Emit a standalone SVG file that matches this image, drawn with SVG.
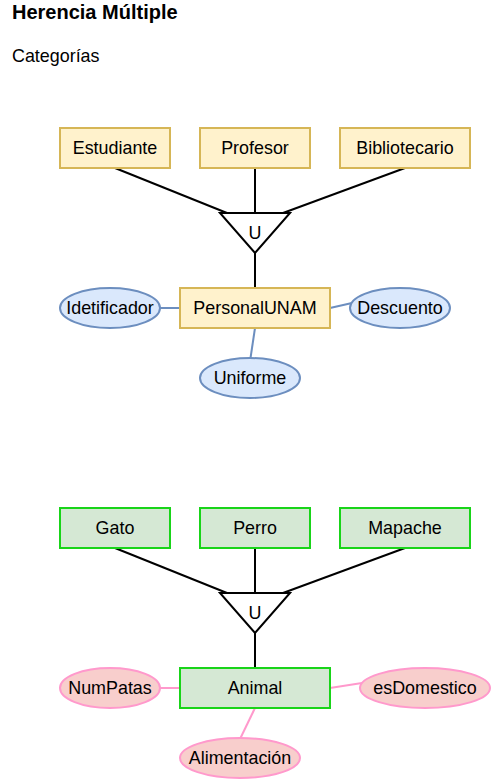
<svg xmlns="http://www.w3.org/2000/svg" width="492" height="780" viewBox="0 0 492 780">
<style>
text{font-family:"Liberation Sans",Arial,sans-serif;font-size:17.9px;fill:#000}
.c{text-anchor:middle}
.ent{fill:#fff2cc;stroke:#d6b656;stroke-width:2}
.ent2{fill:#d5e8d4;stroke:#19d419;stroke-width:2}
.att{fill:#dae8fc;stroke:#6c8ebf;stroke-width:2}
.att2{fill:#f8cecc;stroke:#ff99cc;stroke-width:2}
.tri{fill:#fff;stroke:#000;stroke-width:2}
.l{stroke:#000;stroke-width:2;fill:none}
.lb{stroke:#6c8ebf;stroke-width:2;fill:none}
.lp{stroke:#ff99cc;stroke-width:2;fill:none}
</style>
<rect width="492" height="780" fill="#fff"/>
<text x="12" y="19" style="font-size:20px;font-weight:bold">Herencia Múltiple</text>
<text x="12" y="62">Categorías</text>

<g id="connectors">
<line class="l" x1="115" y1="168" x2="227" y2="213"/>
<line class="l" x1="255" y1="168" x2="255" y2="213"/>
<line class="l" x1="405" y1="168" x2="283" y2="213"/>
<line class="l" x1="255" y1="253" x2="255" y2="288"/>
<line class="lb" x1="160" y1="308" x2="180" y2="308"/>
<line class="lb" x1="330" y1="308" x2="352" y2="303"/>
<line class="lb" x1="255" y1="328" x2="250.5" y2="358"/>
<line class="l" x1="115" y1="548" x2="227" y2="593"/>
<line class="l" x1="255" y1="548" x2="255" y2="593"/>
<line class="l" x1="405" y1="548" x2="283" y2="593"/>
<line class="l" x1="255" y1="633" x2="255" y2="668"/>
<line class="lp" x1="160" y1="688" x2="180" y2="688"/>
<line class="lp" x1="330" y1="688" x2="362" y2="683"/>
<line class="lp" x1="255" y1="708" x2="240.5" y2="738"/>
</g>

<g id="estudiante"><rect class="ent" x="60" y="128" width="110" height="40"/><text class="c" x="115" y="154.3">Estudiante</text></g>
<g id="profesor"><rect class="ent" x="200" y="128" width="110" height="40"/><text class="c" x="255" y="154.3">Profesor</text></g>
<g id="bibliotecario"><rect class="ent" x="340" y="128" width="130" height="40"/><text class="c" x="405" y="154.3">Bibliotecario</text></g>
<g id="union1"><polygon class="tri" points="220,213 290,213 255,253"/><text class="c" x="255" y="239">U</text></g>
<g id="personalunam"><rect class="ent" x="180" y="288" width="150" height="40"/><text class="c" x="255" y="314.3">PersonalUNAM</text></g>
<g id="idetificador"><ellipse class="att" cx="110" cy="308" rx="50" ry="20"/><text class="c" x="110" y="314.3">Idetificador</text></g>
<g id="descuento"><ellipse class="att" cx="400" cy="308" rx="50" ry="20"/><text class="c" x="400" y="314.3">Descuento</text></g>
<g id="uniforme"><ellipse class="att" cx="250" cy="378" rx="50" ry="20"/><text class="c" x="250" y="384.3">Uniforme</text></g>

<g id="gato"><rect class="ent2" x="60" y="508" width="110" height="40"/><text class="c" x="115" y="534.3">Gato</text></g>
<g id="perro"><rect class="ent2" x="200" y="508" width="110" height="40"/><text class="c" x="255" y="534.3">Perro</text></g>
<g id="mapache"><rect class="ent2" x="340" y="508" width="130" height="40"/><text class="c" x="405" y="534.3">Mapache</text></g>
<g id="union2"><polygon class="tri" points="220,593 290,593 255,633"/><text class="c" x="255" y="619">U</text></g>
<g id="animal"><rect class="ent2" x="180" y="668" width="150" height="40"/><text class="c" x="255" y="694.3">Animal</text></g>
<g id="numpatas"><ellipse class="att2" cx="110" cy="688" rx="50" ry="20"/><text class="c" x="110" y="694.3">NumPatas</text></g>
<g id="esdomestico"><ellipse class="att2" cx="425" cy="688" rx="65" ry="20"/><text class="c" x="425" y="694.3">esDomestico</text></g>
<g id="alimentacion"><ellipse class="att2" cx="240" cy="758" rx="60" ry="20"/><text class="c" x="240" y="764.3">Alimentación</text></g>
</svg>
